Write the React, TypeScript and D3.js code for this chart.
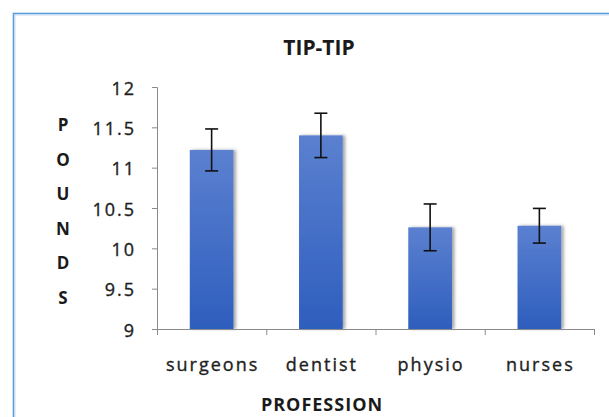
import { FC, useEffect, useRef } from 'react';
import * as d3 from 'd3';

const categories = ['surgeons', 'dentist', 'physio', 'nurses'];
const means = [11.22, 11.4, 10.26, 10.28];
const errors = [0.26, 0.275, 0.29, 0.215];
const yTicks = [9, 9.5, 10, 10.5, 11, 11.5, 12];
const yLetters = ['P', 'O', 'U', 'N', 'D', 'S'];

const App: FC = () => {
  const ref = useRef<SVGSVGElement>(null);

  useEffect(() => {
    drawChart();
  }, []);

  const drawChart = () => {
    const width = 609;
    const height = 417;
    const plot = { left: 157, right: 594, top: 87, bottom: 329 };
    const font = '"Open Sans", sans-serif';
    const axisColor = '#8a8a8a';

    const svg = d3.select(ref.current);
    svg.selectAll('*').remove();
    svg.attr('width', width).attr('height', height);

    const defs = svg.append('defs');
    const grad = defs
      .append('linearGradient')
      .attr('id', 'barGrad')
      .attr('x1', 0)
      .attr('y1', 0)
      .attr('x2', 0)
      .attr('y2', 1);
    grad.append('stop').attr('offset', '0%').attr('stop-color', '#5b80d0');
    grad.append('stop').attr('offset', '100%').attr('stop-color', '#2e5ebd');
    const shadow = defs
      .append('filter')
      .attr('id', 'barShadow')
      .attr('x', '-20%')
      .attr('y', '-10%')
      .attr('width', '150%')
      .attr('height', '120%');
    shadow
      .append('feDropShadow')
      .attr('dx', 2.5)
      .attr('dy', 0)
      .attr('stdDeviation', 1.8)
      .attr('flood-color', '#000')
      .attr('flood-opacity', 0.35);

    // background and chart area border
    svg.append('rect').attr('width', width).attr('height', height).attr('fill', '#fff');
    svg
      .append('rect')
      .attr('x', 13.5)
      .attr('y', 13.5)
      .attr('width', 640)
      .attr('height', 440)
      .attr('fill', 'none')
      .attr('stroke', '#5b9bd5')
      .attr('stroke-width', 1.6);
    svg
      .append('rect')
      .attr('x', 15)
      .attr('y', 15)
      .attr('width', 640)
      .attr('height', 440)
      .attr('fill', 'none')
      .attr('stroke', '#c4dcf1')
      .attr('stroke-width', 1);

    // scales
    const xScale = d3
      .scaleBand()
      .domain(categories)
      .range([plot.left, plot.right])
      .paddingInner(0.6)
      .paddingOuter(0.3);
    const yScale = d3.scaleLinear().domain([9, 12]).range([plot.bottom, plot.top]);

    // y axis
    const yAxis = svg
      .append('g')
      .attr('transform', `translate(${plot.left},0)`)
      .call(
        d3
          .axisLeft(yScale)
          .tickValues(yTicks)
          .tickSize(5)
          .tickPadding(18)
          .tickFormat((d) => d3.format('')(d as number))
      );
    yAxis.selectAll('path, line').attr('stroke', axisColor);
    yAxis
      .selectAll('text')
      .attr('font-family', font)
      .attr('font-size', 18)
      .attr('letter-spacing', 2)
      .attr('fill', '#1e1e1e')
      .attr('stroke', '#1e1e1e')
      .attr('stroke-width', 0.35)
      .attr('dx', 2)
      .attr('dy', '0.4em');

    // bars
    svg
      .append('g')
      .selectAll('rect')
      .data(means)
      .join('rect')
      .attr('x', (d, i) => xScale(categories[i])!)
      .attr('y', (d) => yScale(d))
      .attr('width', xScale.bandwidth())
      .attr('height', (d) => yScale(9) - yScale(d))
      .attr('fill', 'url(#barGrad)')
      .attr('filter', 'url(#barShadow)');

    // x axis
    const step = xScale.step();
    const xEdges = d3.range(categories.length + 1).map((i) => plot.left + i * step);
    const xAxis = svg.append('g');
    xAxis
      .append('line')
      .attr('x1', plot.left)
      .attr('x2', plot.right)
      .attr('y1', plot.bottom + 0.5)
      .attr('y2', plot.bottom + 0.5)
      .attr('stroke', axisColor);
    xAxis
      .selectAll('line.tick')
      .data(xEdges)
      .join('line')
      .attr('class', 'tick')
      .attr('x1', (d) => d + 0.5)
      .attr('x2', (d) => d + 0.5)
      .attr('y1', plot.bottom)
      .attr('y2', plot.bottom + 6)
      .attr('stroke', axisColor);
    xAxis
      .selectAll('text')
      .data(categories)
      .join('text')
      .attr('x', (d) => xScale(d)! + xScale.bandwidth() / 2 + 1)
      .attr('y', 371)
      .attr('text-anchor', 'middle')
      .attr('font-family', font)
      .attr('font-size', 18)
      .attr('letter-spacing', 2)
      .attr('fill', '#1e1e1e')
      .attr('stroke', '#1e1e1e')
      .attr('stroke-width', 0.35)
      .text((d) => d);

    // error bars
    const errG = svg.append('g').attr('stroke', '#111').attr('stroke-width', 1.6);
    categories.forEach((c, i) => {
      const cx = xScale(c)! + xScale.bandwidth() / 2;
      const hi = yScale(means[i] + errors[i]);
      const lo = yScale(means[i] - errors[i]);
      errG.append('line').attr('x1', cx).attr('x2', cx).attr('y1', hi).attr('y2', lo);
      errG.append('line').attr('x1', cx - 6.5).attr('x2', cx + 6.5).attr('y1', hi).attr('y2', hi);
      errG.append('line').attr('x1', cx - 6.5).attr('x2', cx + 6.5).attr('y1', lo).attr('y2', lo);
    });

    // title
    svg
      .append('text')
      .attr('x', 319)
      .attr('y', 55)
      .attr('text-anchor', 'middle')
      .attr('font-family', font)
      .attr('font-weight', 'bold')
      .attr('font-size', 21)
      .attr('fill', '#1a1a1a')
      .text('TIP-TIP');

    // x axis title
    svg
      .append('text')
      .attr('x', 322)
      .attr('y', 411)
      .attr('text-anchor', 'middle')
      .attr('font-family', font)
      .attr('font-weight', 'bold')
      .attr('font-size', 18)
      .attr('letter-spacing', 1)
      .attr('fill', '#1a1a1a')
      .text('PROFESSION');

    // y axis title, stacked letters
    svg
      .append('g')
      .selectAll('text')
      .data(yLetters)
      .join('text')
      .attr('x', 63)
      .attr('y', (d, i) => 131 + i * 34.6)
      .attr('text-anchor', 'middle')
      .attr('font-family', font)
      .attr('font-weight', 'bold')
      .attr('font-size', 17)
      .attr('fill', '#1a1a1a')
      .text((d) => d);
  };

  return <svg ref={ref} style={{ position: 'absolute', left: 0, top: 0 }} />;
};

export default App;
